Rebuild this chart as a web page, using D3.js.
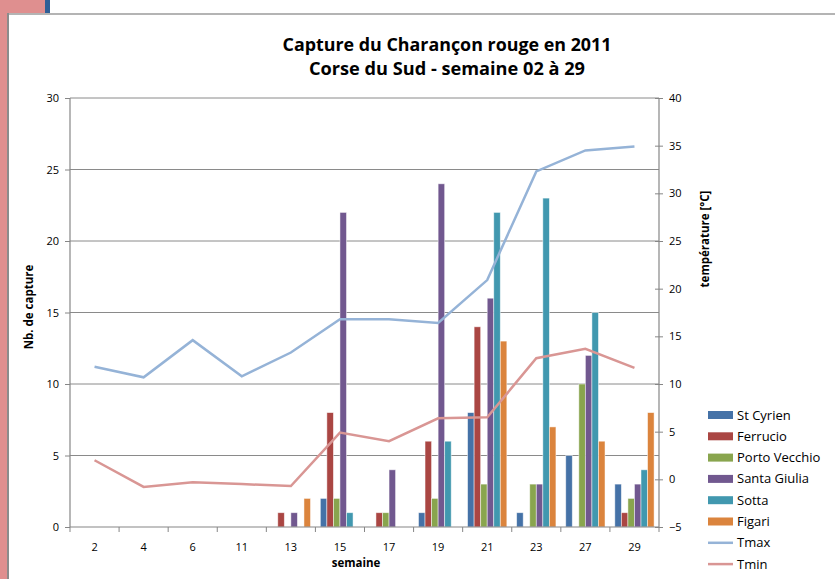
<!DOCTYPE html>
<html>
<head>
<meta charset="utf-8">
<script src="https://cdn.jsdelivr.net/npm/d3@7"></script>
<style>
  body { margin: 0; background: #fff; }
  text { font-family: "Open Sans", Lato, sans-serif; fill: #000; }
</style>
</head>
<body>
<script>
const width = 835,
      height = 579

// data
const weeks = ['2', '4', '6', '11', '13', '15', '17', '19', '21', '23', '27', '29']
const stCyrien     = [0, 0, 0, 0, 0, 2, 0, 1, 8, 1, 5, 3]
const ferrucio     = [0, 0, 0, 0, 1, 8, 1, 6, 14, 0, 0, 1]
const portoVecchio = [0, 0, 0, 0, 0, 2, 1, 2, 3, 3, 10, 2]
const santaGiulia  = [0, 0, 0, 0, 1, 22, 4, 24, 16, 3, 12, 3]
const sotta        = [0, 0, 0, 0, 0, 1, 0, 6, 22, 23, 15, 4]
const figari       = [0, 0, 0, 0, 2, 0, 0, 0, 13, 7, 6, 8]
const tmax = [11.8, 10.7, 14.6, 10.8, 13.3, 16.8, 16.8, 16.4, 20.9, 32.3, 34.5, 34.9]
const tmin = [2.0, -0.8, -0.3, -0.5, -0.7, 4.9, 4.0, 6.4, 6.5, 12.7, 13.7, 11.7]
const leftTicks = [0, 5, 10, 15, 20, 25, 30]
const rightTicks = [-5, 0, 5, 10, 15, 20, 25, 30, 35, 40]

const barSeries = [
    { name: 'St Cyrien', values: stCyrien, color: '#4572A7' },
    { name: 'Ferrucio', values: ferrucio, color: '#AA4643' },
    { name: 'Porto Vecchio', values: portoVecchio, color: '#89A54E' },
    { name: 'Santa Giulia', values: santaGiulia, color: '#71588F' },
    { name: 'Sotta', values: sotta, color: '#4198AF' },
    { name: 'Figari', values: figari, color: '#DB843D' }
]
const lineSeries = [
    { name: 'Tmax', values: tmax, color: '#95B3D7' },
    { name: 'Tmin', values: tmin, color: '#D99694' }
]

const plot = { left: 70, right: 659, top: 98, bottom: 527 }

const svg = d3.select('body').append('svg')
    .attr('width', width)
    .attr('height', height)

// frame decorations
svg.append('rect').attr('x', 0).attr('y', 0).attr('width', 45).attr('height', 13).attr('fill', '#DF8F8F')
svg.append('rect').attr('x', 0).attr('y', 0).attr('width', 7).attr('height', height).attr('fill', '#DF8F8F')
svg.append('rect').attr('x', 45).attr('y', 0).attr('width', 5).attr('height', 13).attr('fill', '#2F5F96')
svg.append('line').attr('x1', 7).attr('x2', width).attr('y1', 14).attr('y2', 14)
    .style('stroke', '#b4b4b4').style('stroke-width', 2)
svg.append('line').attr('x1', 8).attr('x2', 8).attr('y1', 13).attr('y2', height)
    .style('stroke', '#8c8c8c').style('stroke-width', 2)

const x = d3.scaleBand()
    .domain(weeks)
    .range([plot.left, plot.right])

const y = d3.scaleLinear()
    .domain([0, 30])
    .range([plot.bottom, plot.top])

const yT = d3.scaleLinear()
    .domain([-5, 40])
    .range([plot.bottom, plot.top])

// bars: gap width 150%
const barW = x.bandwidth() / (barSeries.length + 1.5)
const xs = d3.scaleBand()
    .domain(barSeries.map(d => d.name))
    .range([0.75 * barW, 0.75 * barW + barW * barSeries.length])

// gridlines
svg.append('g')
    .selectAll('line')
    .data(leftTicks.filter(d => d > 0))
    .enter()
    .append('line')
        .attr('x1', plot.left)
        .attr('x2', plot.right)
        .attr('y1', d => y(d))
        .attr('y2', d => y(d))
        .style('stroke', '#8a8a8a')
        .style('stroke-width', 1)

barSeries.forEach(s => {
    svg.append('g')
        .selectAll('rect')
        .data(s.values.map((v, i) => ({ v: v, w: weeks[i] })))
        .enter()
        .append('rect')
            .filter(d => d.v > 0)
            .attr('x', d => x(d.w) + xs(s.name))
            .attr('y', d => y(d.v))
            .attr('width', xs.bandwidth())
            .attr('height', d => y(0) - y(d.v))
            .style('fill', s.color)
            .style('stroke', 'rgba(255,255,255,0.6)')
            .style('stroke-width', 0.8)
})

const line = d3.line()
    .x((d, i) => x(weeks[i]) + x.bandwidth() / 2)
    .y(d => yT(d))

lineSeries.forEach(s => {
    svg.append('path')
        .datum(s.values)
        .attr('d', line)
        .style('fill', 'none')
        .style('stroke', s.color)
        .style('stroke-width', 2.5)
})

// axes
const axisColor = '#868686'
const leftAxis = svg.append('g')
    .attr('transform', `translate(${plot.left},0)`)
    .call(d3.axisLeft(y).tickValues(leftTicks).tickSize(5).tickPadding(6))
const rightAxis = svg.append('g')
    .attr('transform', `translate(${plot.right},0)`)
    .call(d3.axisRight(yT).tickValues(rightTicks).tickSize(4).tickPadding(6))
rightAxis.selectAll('.tick line').attr('x1', -4)
const bottomAxis = svg.append('g')
    .attr('transform', `translate(0,${plot.bottom})`)
    .call(d3.axisBottom(x).tickSize(0).tickPadding(16))

// category boundary ticks
svg.append('g')
    .selectAll('line')
    .data(d3.range(weeks.length + 1))
    .enter()
    .append('line')
        .attr('x1', i => plot.left + i * x.step())
        .attr('x2', i => plot.left + i * x.step())
        .attr('y1', plot.bottom)
        .attr('y2', plot.bottom + 5)
        .style('stroke', axisColor)

;[leftAxis, rightAxis, bottomAxis].forEach(a => {
    a.select('.domain').style('stroke', axisColor).style('stroke-width', 1.2)
    a.selectAll('.tick line').style('stroke', axisColor)
    a.selectAll('.tick text')
        .style('font-family', '"Open Sans", Lato, sans-serif')
        .style('font-size', '11px')
        .style('fill', '#000')
})
leftAxis.select('.domain').attr('d', `M0,${plot.bottom}V${plot.top}`)
rightAxis.select('.domain').attr('d', `M0,${plot.bottom}V${plot.top}`)
bottomAxis.select('.domain').attr('d', `M${plot.left},0H${plot.right}`)

// titles
svg.append('text')
    .attr('x', 447)
    .attr('y', 51)
    .attr('text-anchor', 'middle')
    .attr('textLength', 329)
    .attr('lengthAdjust', 'spacingAndGlyphs')
    .style('font-size', '17px')
    .style('font-weight', 'bold')
    .text('Capture du Charançon rouge en 2011')
svg.append('text')
    .attr('x', 447)
    .attr('y', 75)
    .attr('text-anchor', 'middle')
    .attr('textLength', 276)
    .attr('lengthAdjust', 'spacingAndGlyphs')
    .style('font-size', '17px')
    .style('font-weight', 'bold')
    .text('Corse du Sud - semaine 02 à 29')

svg.append('text')
    .attr('transform', `translate(33,307) rotate(-90)`)
    .attr('text-anchor', 'middle')
    .style('font-size', '11.5px')
    .style('font-weight', 'bold')
    .text('Nb. de capture')
svg.append('text')
    .attr('transform', `translate(709,239) rotate(-90)`)
    .attr('text-anchor', 'middle')
    .style('font-size', '11.5px')
    .style('font-weight', 'bold')
    .text('température [°C]')
svg.append('text')
    .attr('x', 356)
    .attr('y', 567)
    .attr('text-anchor', 'middle')
    .style('font-size', '11.5px')
    .style('font-weight', 'bold')
    .text('semaine')

// legend
const legend = svg.append('g')
    .selectAll('g')
    .data(barSeries.concat(lineSeries))
    .enter()
    .append('g')
        .attr('transform', (d, i) => `translate(708,${415 + i * 21.3})`)

legend.filter((d, i) => i < barSeries.length)
    .append('rect')
        .attr('x', 0)
        .attr('y', -4)
        .attr('width', 25)
        .attr('height', 8)
        .style('fill', d => d.color)
legend.filter((d, i) => i >= barSeries.length)
    .append('line')
        .attr('x1', 0)
        .attr('x2', 25)
        .attr('y1', 0)
        .attr('y2', 0)
        .style('stroke', d => d.color)
        .style('stroke-width', 2.5)
legend.append('text')
    .attr('x', 29)
    .attr('y', 0)
    .attr('dy', '0.35em')
    .style('font-size', '13px')
    .text(d => d.name)
</script>
</body>
</html>
